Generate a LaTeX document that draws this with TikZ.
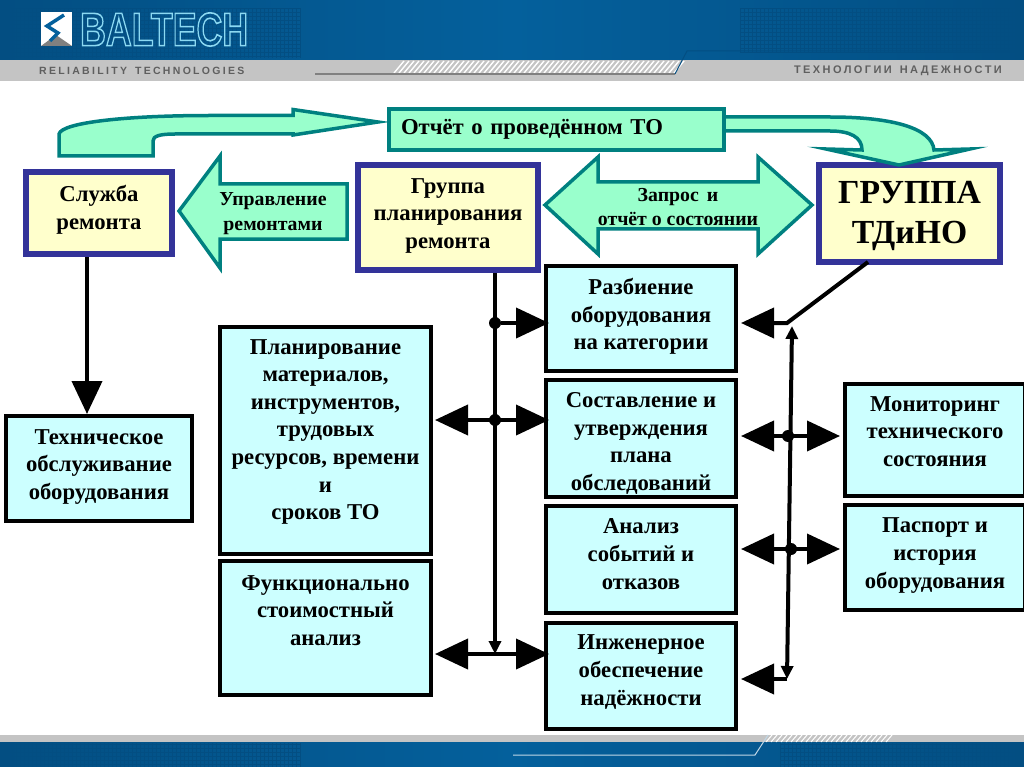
\documentclass[tikz,border=0pt]{standalone}
\usepackage{fontspec}
\setmainfont{Liberation Serif}
\newfontfamily\headfont[LetterSpace=22]{Liberation Sans}
\newfontfamily\logofont{Liberation Sans}
\usetikzlibrary{arrows.meta,positioning,calc}
\definecolor{headblue}{RGB}{4,96,156}
\definecolor{headdark}{RGB}{3,78,130}
\definecolor{bandgray}{RGB}{196,196,196}
\definecolor{inkgray}{RGB}{95,95,95}
\definecolor{softmint}{RGB}{153,255,204}
\definecolor{softcream}{RGB}{255,255,204}
\definecolor{softcyan}{RGB}{204,255,255}
\definecolor{tealline}{RGB}{0,128,128}
\definecolor{navyline}{RGB}{51,51,153}
\tikzset{
  bluebox/.style={rectangle, draw=black, line width=4pt, fill=softcyan, align=center, inner sep=0pt,
                  font=\fontsize{22.7}{27.6}\selectfont\bfseries},
  yellowbox/.style={bluebox, draw=navyline, line width=6pt, fill=softcream},
  flowbox/.style={bluebox, draw=tealline, fill=softmint, align=left},
  blockarrow/.style={draw=tealline, line width=3.5pt, fill=softmint, line join=miter, miter limit=30},
  arrowtext/.style={align=center, inner sep=0pt, font=\fontsize{19.8}{24.5}\selectfont\bfseries},
  dot/.style={circle, fill=black, minimum size=12pt, inner sep=0pt},
  oneway/.style={-{Triangle[length=33pt,width=30pt]}, line width=4pt},
  twoway/.style={{Triangle[length=33pt,width=30pt]}-{Triangle[length=33pt,width=30pt]}, line width=4pt},
  busline/.style={-{Triangle[length=13pt,width=12pt]}, line width=4pt},
  busboth/.style={{Triangle[length=13pt,width=12pt]}-{Triangle[length=13pt,width=12pt]}, line width=4pt},
  headtext/.style={inner sep=0pt, text=inkgray, font=\headfont\fontsize{11}{12}\selectfont\bfseries},
}
\begin{document}
\begin{tikzpicture}[x=1pt,y=-1pt]
\useasboundingbox (0,0) rectangle (1024,767);
% header and footer
\fill[bandgray] (0,59) rectangle (1024,81);
\fill[left color=headdark, right color=headdark, middle color=headblue] (0,0) rectangle (1024,60);
\draw[headdark, line width=.6pt, step=4pt] (0,8) grid (300,58);
\draw[headdark, line width=.6pt, step=4pt] (740,8) grid (1024,52);
\foreach \i in {0,5,...,280}
  \draw[white, line width=1.4pt] (394+\i,73) -- (404+\i,61);
\draw[gray, line width=1.2pt] (315,74) -- (675,74);
\draw[headdark, line width=1pt] (675,74) -- (687,51) -- (1024,51);
\fill[bandgray] (0,735) rectangle (1024,743);
\fill[left color=headdark, right color=headdark, middle color=headblue] (0,742) rectangle (1024,767);
\draw[headdark, line width=.6pt, step=4pt] (0,743) grid (300,767);
\draw[headdark, line width=.6pt, step=4pt] (780,743) grid (1024,767);
\foreach \i in {0,5,...,120}
  \draw[white, line width=1pt] (766+\i,742) -- (772+\i,735);
\draw[white!75!headblue, line width=1pt] (513,755) -- (755,755) -- (768,735);
% logo
\fill[white] (41,12) rectangle (72,46);
\fill[gray] (41,46) -- (56,35) -- (72,46) -- cycle;
\draw[headblue, line width=3.5pt] (64,15) -- (47,26) -- (58,33) -- (50,41);
\node[inner sep=0pt, anchor=west, xscale=.76] (brand) at (80,29.5)
  {\logofont\fontsize{47}{47}\selectfont\bfseries\special{pdf:code q 1 Tr 1.6 w .55 .85 .95 RG}BALTECH\special{pdf:code Q}};
\node[headtext, anchor=west, font=\headfont\fontsize{10.5}{12}\selectfont\bfseries] (slogan) at (39,70.5) {RELIABILITY\hspace{8pt}TECHNOLOGIES};
\node[headtext, anchor=east] (sloganru) at (1002,71) {ТЕХНОЛОГИИ\hspace{8pt}НАДЕЖНОСТИ};
% boxes
\node[yellowbox, minimum width=146pt, minimum height=82pt, text depth=11pt] (service) at (99,213) {Служба\\ремонта};
\node[yellowbox, minimum width=180pt, minimum height=105pt, text depth=8pt] (planning) at (448,217.5) {Группа\\планирования\\ремонта};
\node[yellowbox, minimum width=181pt, minimum height=97pt, font=\fontsize{33.7}{40}\selectfont\bfseries, text depth=3pt] (tdino) at (909.5,213.5) {ГРУППА\\ТДиНО};
\draw[blockarrow] (722,117) -- (830,117) .. controls (892,117) and (932,128) .. (934,150) -- (970,149)
  -- (899,165) -- (826,149) -- (862,150) .. controls (862,137) and (850,131) .. (830,131) -- (722,131) -- cycle;
\node[flowbox, minimum height=41pt, text width=311pt, inner xsep=12pt] (report) at (556.5,129.5) {Отчёт о проведённом ТО};
\draw[blockarrow] (59,156) -- (59,134) .. controls (62,122) and (130,115.5) .. (210,115.5) -- (293,115.5) -- (293,109.5)
  -- (378,122) -- (293,135) -- (293,134) -- (175,134) .. controls (160,134) and (153,136) .. (153,141) -- (153,156) -- cycle;
\draw[blockarrow] (347,184) -- (220,184) -- (220,156) -- (179,211) -- (220,268) -- (220,239) -- (347,239) -- cycle;
\node[arrowtext] (manage) at (273,213.5) {Управление\\ремонтами};
\draw[blockarrow] (545,205) -- (598,157) -- (598,182) -- (758,182) -- (758,157) -- (812,205)
  -- (758,254) -- (758,229) -- (598,229) -- (598,254) -- cycle;
\node[arrowtext] (request) at (678,207) {Запрос\hspace{8pt}и\\отчёт о состоянии};
\node[bluebox, minimum width=190pt, minimum height=105pt, text depth=9pt] (category) at (641,318.5) {Разбиение\\оборудования\\на категории};
\node[bluebox, minimum width=190pt, minimum height=117pt, below=5pt of category, text height=108pt] (approve) {Составление и\\утверждения\\плана\\обследований};
\node[bluebox, minimum width=190pt, minimum height=107pt, below=5pt of approve, text depth=11pt] (events) {Анализ\\событий и\\отказов};
\node[bluebox, minimum width=190pt, minimum height=106pt, below=6pt of events, text depth=12pt] (engineer) {Инженерное\\обеспечение\\надёжности};
\node[bluebox, minimum width=211pt, minimum height=227pt, text depth=22pt] (materials) at (325.5,440.5) {Планирование\\материалов,\\инструментов,\\трудовых\\ресурсов, времени\\и\\сроков ТО};
\node[bluebox, minimum width=211pt, minimum height=134pt, below=3pt of materials, text depth=35pt] (cost) {Функционально\\стоимостный\\анализ};
\node[bluebox, minimum width=186pt, minimum height=105pt, text depth=8pt] (upkeep) at (99,468.5) {Техническое\\обслуживание\\оборудования};
\node[bluebox, minimum width=180pt, minimum height=112pt, text depth=17pt] (monitor) at (935,440) {Мониторинг\\технического\\состояния};
\node[bluebox, minimum width=180pt, minimum height=105pt, below=5pt of monitor, text depth=9pt] (passport) {Паспорт и\\история\\оборудования};
% connectors
\node[dot] (jA) at (495,323) {};
\node[dot] (jB) at (495,420) {};
\coordinate (jC) at (495,654);
\node[dot] (jD) at (788,436) {};
\node[dot] (jE) at (791,549) {};
\coordinate (busTop) at (792,326);
\coordinate (busEnd) at (787,679);
\coordinate (tdinoOut) at (868,262);
\coordinate (corner) at (787,323);
\draw[oneway] (service.south -| 87,0) -- (upkeep.north -| 87,0);
\draw[busline] (planning.south -| jA) -- (jC);
\draw[oneway, shorten >=-5pt] (jA) -- (category.west |- jA);
\draw[twoway, shorten >=-5pt, shorten <=2pt] (materials.east |- jB) -- (approve.west |- jB);
\draw[twoway, shorten >=-5pt, shorten <=2pt] (cost.east |- jC) -- (engineer.west |- jC);
\draw[oneway, shorten >=3pt] (tdinoOut) -- (corner) -- (category.east |- corner);
\draw[busboth] (busTop) -- (busEnd);
\draw[twoway, shorten <=3pt, shorten >=3pt] (approve.east |- jD) -- (monitor.west |- jD);
\draw[twoway, shorten <=3pt, shorten >=3pt] (events.east |- jE) -- (passport.west |- jE);
\draw[oneway, shorten >=3pt] (busEnd) -- (engineer.east |- busEnd);
\end{tikzpicture}
\end{document}
